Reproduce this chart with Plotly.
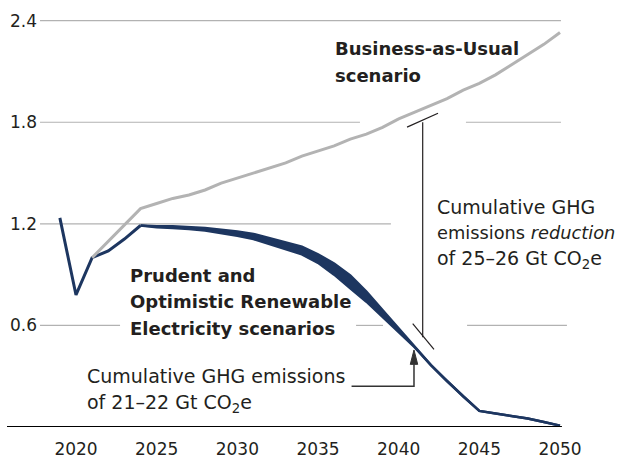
import plotly.graph_objects as go

# years and values (Gt CO2e per year)
years_dark = list(range(2019, 2025))
dark_early = [1.235, 0.78, 1.00, 1.04, 1.11, 1.19]

years_band = list(range(2024, 2051))
prudent = [1.19, 1.185, 1.185, 1.18, 1.175, 1.165, 1.155, 1.14, 1.115, 1.09, 1.065,
           1.02, 0.965, 0.895, 0.80, 0.69, 0.58, 0.47, 0.365, 0.27, 0.18, 0.095,
           0.08, 0.065, 0.05, 0.03, 0.008]
optimistic = [1.19, 1.18, 1.175, 1.17, 1.16, 1.145, 1.13, 1.11, 1.08, 1.05, 1.02,
              0.97, 0.90, 0.82, 0.74, 0.65, 0.56, 0.47, 0.365, 0.27, 0.18, 0.095,
              0.08, 0.065, 0.05, 0.03, 0.008]

years_bau = list(range(2021, 2051))
bau = [1.00, 1.097, 1.193, 1.29, 1.32, 1.35, 1.37, 1.40, 1.44, 1.47, 1.50, 1.53,
       1.56, 1.60, 1.63, 1.66, 1.70, 1.73, 1.77, 1.82, 1.86, 1.90, 1.94, 1.99,
       2.03, 2.08, 2.14, 2.20, 2.26, 2.33]

x_ticks = [2020, 2025, 2030, 2035, 2040, 2045, 2050]
y_ticks = [0.6, 1.2, 1.8, 2.4]

navy = "#1d3660"
grey = "#b3b3b3"
grid = "#b2b2b2"
ink = "#231f20"
font = "DejaVu Sans"

fig = go.Figure()

fig.add_trace(go.Scatter(x=years_band, y=optimistic, mode="lines",
                         line=dict(color=navy, width=2.5)))
fig.add_trace(go.Scatter(x=years_band, y=prudent, mode="lines", fill="tonexty",
                         fillcolor=navy, line=dict(color=navy, width=2.5)))
fig.add_trace(go.Scatter(x=years_dark, y=dark_early, mode="lines",
                         line=dict(color=navy, width=3)))
fig.add_trace(go.Scatter(x=years_bau, y=bau, mode="lines",
                         line=dict(color=grey, width=3)))

# gridlines with gaps for the labels
grid_segments = [
    (2.4, 2017.77, 2050.06),
    (1.8, 2017.77, 2037.6), (1.8, 2044.17, 2050.06),
    (1.2, 2017.77, 2039.52),
    (0.6, 2017.77, 2022.73), (0.6, 2037.36, 2039.03), (0.6, 2044.24, 2050.43),
]
for yv, x0, x1 in grid_segments:
    fig.add_shape(type="line", x0=x0, x1=x1, y0=yv, y1=yv, layer="below",
                  line=dict(color=grid, width=1.2))

# baseline
fig.add_shape(type="line", x0=2015.72, x1=2050.12, y0=0, y1=0,
              line=dict(color="black", width=2))

# reduction bracket
line_k = dict(color=ink, width=1.2)
fig.add_shape(type="line", x0=2041.49, x1=2041.49, y0=1.80, y1=0.53, line=line_k)
fig.add_shape(type="line", x0=2040.52, x1=2042.44, y0=1.771, y1=1.853, line=line_k)
fig.add_shape(type="line", x0=2040.87, x1=2042.19, y0=0.61, y1=0.459, line=line_k)

# cumulative arrow (elbow + head)
arrow_c = "#333333"
fig.add_shape(type="path", path="M 2037.08 0.24 L 2040.95 0.24 L 2040.95 0.37",
              line=dict(color=arrow_c, width=1.5))
fig.add_shape(type="path", path="M 2040.72 0.37 L 2041.18 0.37 L 2040.95 0.455 Z",
              fillcolor=arrow_c, line=dict(color=arrow_c, width=1))

def label(x, y, txt, bold=False, size=18):
    fig.add_annotation(x=x, y=y, text=f"<b>{txt}</b>" if bold else txt,
                       showarrow=False, xanchor="left", yanchor="middle",
                       font=dict(family=font, size=size, color=ink))

label(2035.93, 2.2346, "Business-as-Usual", True)
label(2035.93, 2.0762, "scenario", True)
label(2023.22, 0.8974, "Prudent and", True)
label(2023.22, 0.7390, "Optimistic Renewable", True)
label(2023.22, 0.5806, "Electricity scenarios", True)
label(2042.25, 1.3021, "Cumulative GHG", size=19)
label(2042.25, 1.1496, "emissions <i>reduction</i>", size=17.8)
label(2042.25, 0.9912, "of 25–26 Gt CO<sub>2</sub>e", size=19)
label(2020.56, 0.2991, "Cumulative GHG emissions", size=19)
label(2020.56, 0.1408, "of 21–22 Gt CO<sub>2</sub>e", size=19)

fig.update_layout(
    width=623, height=459,
    margin=dict(l=7, r=48, t=0, b=29),
    plot_bgcolor="white", paper_bgcolor="white",
    showlegend=False,
    font=dict(family=font, size=17, color=ink),
)
fig.update_xaxes(range=[2015.723, 2050.930], tickvals=x_ticks, showgrid=False,
                 zeroline=False, showline=False, ticks="", ticklabelstandoff=10,
                 tickfont=dict(family=font, size=17, color=ink))
fig.update_yaxes(range=[0, 2.522], tickvals=y_ticks, tickformat=".1f",
                 showgrid=False, zeroline=False, showline=False, ticks="",
                 ticklabelposition="inside",
                 tickfont=dict(family=font, size=17, color=ink))

fig.write_html("out.html", config={"displayModeBar": False},
               post_script="document.body.style.margin='0';")
